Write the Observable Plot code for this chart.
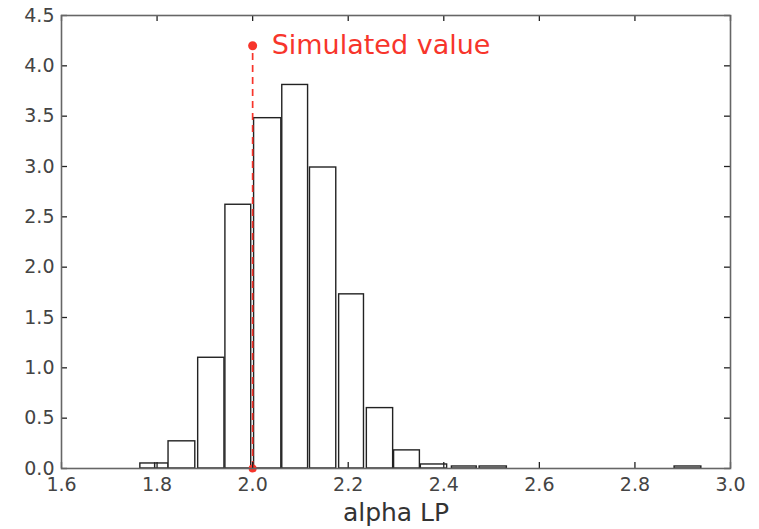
<!DOCTYPE html>
<html>
<head>
<meta charset="utf-8">
<script src="https://cdn.jsdelivr.net/npm/d3@7"></script>
<script src="https://cdn.jsdelivr.net/npm/@observablehq/plot@0.6"></script>
<style>
  html, body { margin: 0; padding: 0; background: #fff; }
  #chart svg { display: block; }
</style>
</head>
<body>
<div id="chart"></div>
<script>
// Histogram bins (left edge, right edge, density)
const binStart = [1.765, 1.796, 1.824, 1.886, 1.943, 2.003, 2.062, 2.120, 2.181, 2.239, 2.296, 2.352, 2.417, 2.475, 2.883];
const binEnd   = [1.796, 1.824, 1.880, 1.941, 1.997, 2.060, 2.116, 2.175, 2.233, 2.294, 2.350, 2.407, 2.469, 2.532, 2.939];
const density  = [0.05, 0.05, 0.27, 1.10, 2.62, 3.48, 3.81, 2.99, 1.73, 0.60, 0.18, 0.04, 0.02, 0.02, 0.02];

const xTicks = [1.6, 1.8, 2.0, 2.2, 2.4, 2.6, 2.8, 3.0];
const yTicks = [0, 0.5, 1.0, 1.5, 2.0, 2.5, 3.0, 3.5, 4.0, 4.5];

const simValue = 2.0;
const simMarkerHeight = 4.2;
const simLabel = "Simulated value";
const xLabel = "alpha LP";

const bins = binStart.map((s, i) => ({x1: s, x2: binEnd[i], y: density[i]}));

const W = 759, H = 529;
const mL = 61, mR = 29, mT = 15, mB = 61;
const innerH = H - mT - mB;
const innerW = W - mL - mR;
const tickLen = 6;
const red = "#f7352b";
const fmt = d3.format(".1f");

const chart = Plot.plot({
  width: W,
  height: H,
  marginLeft: mL,
  marginRight: mR,
  marginTop: mT,
  marginBottom: mB,
  style: {fontFamily: "DejaVu Sans, sans-serif", fontSize: "19px", background: "#fff"},
  x: {domain: [1.6, 3.0]},
  y: {domain: [0, 4.5]},
  marks: [
    Plot.rectY(bins, {x1: "x1", x2: "x2", y1: 0, y2: "y", fill: "white", stroke: "#222", strokeWidth: 1.4}),
    Plot.ruleX([simValue], {y1: 0, y2: simMarkerHeight, stroke: red, strokeWidth: 1.7, strokeDasharray: "7,5"}),
    Plot.dot([simValue], {x: d => d, y: simMarkerHeight, r: 4.5, fill: red, stroke: "none"}),
    Plot.dot([simValue], {x: d => d, y: 0, r: 4, fill: red, stroke: "none"}),
    Plot.text([simLabel], {x: simValue, y: simMarkerHeight, dx: 19, textAnchor: "start", fill: red, fontSize: 27}),
    // inward ticks on all four sides
    Plot.tickX(xTicks, {x: d => d, insetTop: innerH - tickLen, stroke: "#222", strokeWidth: 1.3}),
    Plot.tickX(xTicks, {x: d => d, insetBottom: innerH - tickLen, stroke: "#222", strokeWidth: 1.3}),
    Plot.tickY(yTicks, {y: d => d, insetRight: innerW - tickLen, stroke: "#222", strokeWidth: 1.3}),
    Plot.tickY(yTicks, {y: d => d, insetLeft: innerW - tickLen, stroke: "#222", strokeWidth: 1.3}),
    Plot.axisX(xTicks, {tickSize: 0, tickPadding: 9, fontSize: 19, fill: "#444", label: null, tickFormat: fmt}),
    Plot.axisY(yTicks, {tickSize: 0, tickPadding: 7, fontSize: 19, fill: "#444", label: null, tickFormat: fmt}),
    Plot.frame({stroke: "#666", strokeWidth: 1.6}),
    Plot.text([xLabel], {frameAnchor: "bottom", dy: 44, fontSize: 25, fill: "#333", lineAnchor: "middle"})
  ]
});
document.getElementById("chart").appendChild(chart);
</script>
</body>
</html>
